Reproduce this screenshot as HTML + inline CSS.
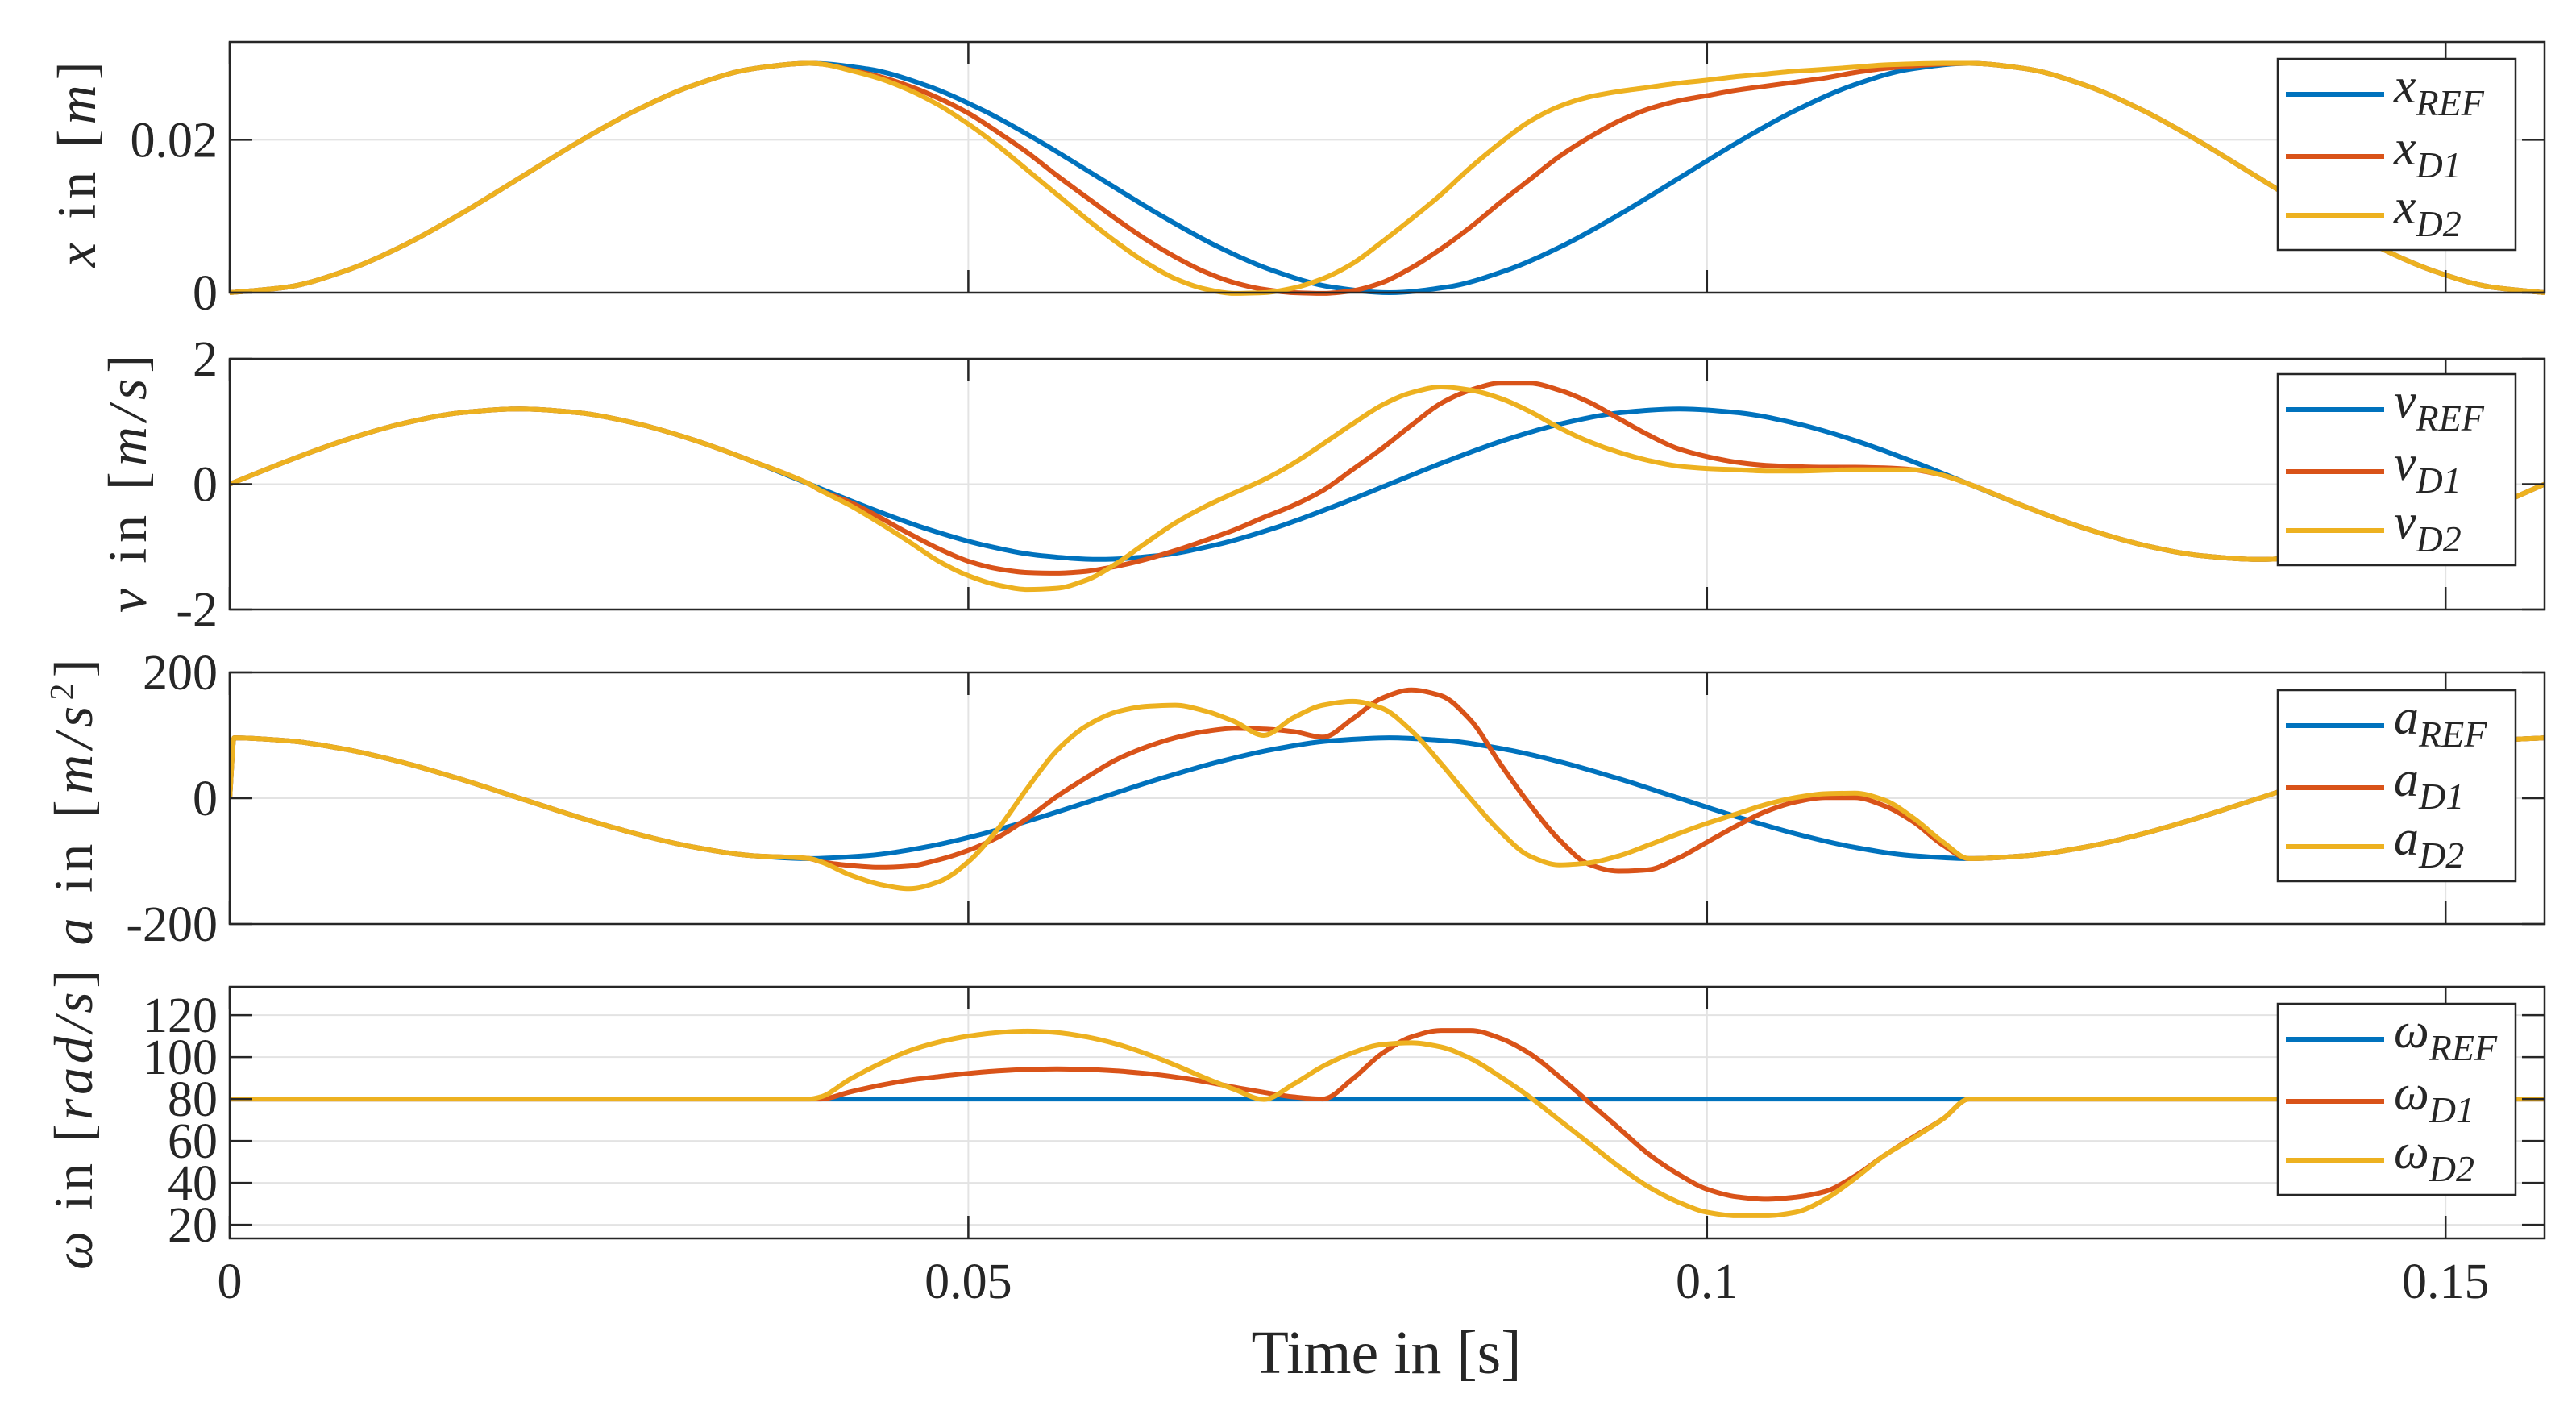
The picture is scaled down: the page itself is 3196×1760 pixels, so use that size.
<!DOCTYPE html>
<html><head><meta charset="utf-8"><style>
html,body{margin:0;padding:0;background:#fff}
svg{display:block}
text{font-family:"Liberation Serif","DejaVu Serif",serif;fill:#262626}
</style></head><body>
<svg id="chart" width="3196" height="1760" viewBox="0 0 3196 1760" xmlns="http://www.w3.org/2000/svg">
<rect width="3196" height="1760" fill="#fff"/>
<g id="root"></g>
<text x="1720" y="1703" font-size="76" text-anchor="middle" font-family="Liberation Serif, serif">Time in [s]</text>
</svg>
<script>
// ---- data ----
const tGrid=[0,0.003925,0.00785,0.011775,0.0157,0.019625,0.02355,0.027475,0.0314,0.035325,0.03925,0.043175,0.0471,0.051025,0.05495,0.058875,0.0628,0.066725,0.07065,0.074575,0.0785,0.082425,0.08635,0.090275,0.0942,0.098125,0.10205,0.105975,0.1099,0.113825,0.11775,0.121675,0.1256,0.129525,0.13345,0.137375,0.1413,0.145225,0.14915,0.153075,0.157];
const tWin=[0.040,0.042,0.044,0.046,0.048,0.050,0.052,0.054,0.056,0.058,0.060,0.062,0.064,0.066,0.068,0.070,0.072,0.074,0.076,0.078,0.080,0.082,0.084,0.086,0.088,0.090,0.092,0.094,0.096,0.098,0.100,0.102,0.104,0.106,0.108,0.110,0.112,0.114,0.116];
const winStart=0.0393, winEnd=0.1177;

const xRef=[0,.000735,.002865,.00618,.010365,.015,.019635,.02382,.027135,.029265,.03,.029265,.027135,.02382,.019635,.015,.010365,.00618,.002865,.000735,0,.000735,.002865,.00618,.010365,.015,.019635,.02382,.027135,.029265,.03,.029265,.027135,.02382,.019635,.015,.010365,.00618,.002865,.000735,0];
const xD1=[.02993,.02915,.02826,.02702,.02543,.02348,.02099,.01833,.01532,.01248,.00965,.00699,.00468,.00273,.00131,.00043,0,-.0001,.00025,.00131,.00326,.00574,.00858,.01177,.01479,.0178,.02028,.02241,.024,.02507,.02578,.02649,.02702,.02755,.02809,.02879,.02933,.02968,.02993];
const xD2=[.02993,.02908,.02801,.02649,.02454,.02206,.01922,.01603,.01284,.00965,.00663,.00397,.00184,.0005,-.0001,0,.0006,.00184,.00379,.00663,.00965,.01284,.01638,.01957,.02241,.02436,.0256,.02631,.02684,.02738,.0278,.02826,.02861,.02897,.02922,.0295,.02979,.02993,.03];

const vRef=[0,.371,.706,.971,1.141,1.2,1.141,.971,.706,.371,0,-.371,-.706,-.971,-1.141,-1.2,-1.141,-.971,-.706,-.371,0,.371,.706,.971,1.141,1.2,1.141,.971,.706,.371,0,-.371,-.706,-.971,-1.141,-1.2,-1.141,-.971,-.706,-.371,0];
const vD1=[-.10,-.29,-.53,-.79,-1.03,-1.23,-1.35,-1.41,-1.42,-1.39,-1.31,-1.20,-1.06,-.90,-.73,-.53,-.34,-.10,.23,.57,.94,1.29,1.50,1.61,1.61,1.50,1.31,1.05,.79,.57,.44,.35,.30,.28,.27,.27,.26,.23,.14];
const vD2=[-.10,-.34,-.62,-.92,-1.23,-1.46,-1.61,-1.68,-1.66,-1.53,-1.27,-.94,-.62,-.36,-.14,.07,.33,.64,.96,1.26,1.46,1.55,1.50,1.37,1.16,.90,.68,.51,.38,.29,.25,.23,.21,.21,.22,.23,.23,.23,.14];

const aRefT=[0,0.0003,0.003925,0.00785,0.011775,0.0157,0.019625,0.02355,0.027475,0.0314,0.035325,0.03925,0.043175,0.0471,0.051025,0.05495,0.058875,0.0628,0.066725,0.07065,0.074575,0.0785,0.082425,0.08635,0.090275,0.0942,0.098125,0.10205,0.105975,0.1099,0.113825,0.11775,0.121675,0.1256,0.129525,0.13345,0.137375,0.1413,0.145225,0.14915,0.153075,0.157];
const aRef=[0,96,91.3,77.7,56.4,29.7,0,-29.7,-56.4,-77.7,-91.3,-96,-91.3,-77.7,-56.4,-29.7,0,29.7,56.4,77.7,91.3,96,91.3,77.7,56.4,29.7,0,-29.7,-56.4,-77.7,-91.3,-96,-91.3,-77.7,-56.4,-29.7,0,29.7,56.4,77.7,91.3,96];
const aD1=[-101,-107,-110,-108,-98,-83,-62,-32,3,33,61,81,96,106,111,110,106,97,126,159,172,163,124,55,-10,-66,-105,-116,-114,-96,-70,-44,-21,-6,1,1,-12,-38,-75];
const aD2=[-101,-122,-137,-144,-133,-101,-49,16,76,115,137,146,148,139,122,100,128,148,154,143,107,55,-1,-53,-92,-106,-103,-92,-75,-57,-40,-25,-10,1,7,8,-3,-32,-70];

const wRef=[80,80,80,80,80,80,80,80,80,80,80,80,80,80,80,80,80,80,80,80,80,80,80,80,80,80,80,80,80,80,80,80,80,80,80,80,80,80,80,80,80];
const wD1=[80,83.4,86.5,89,90.7,92.2,93.4,94.1,94.4,94.1,93.4,92.2,90.5,88.3,85.6,83.2,81,80,89.5,101.7,109.6,112.7,112.7,109,101.7,90.7,78.5,66.3,54,44.4,37,33.4,32.2,33.2,35.9,43.2,53,62,70.6];
const wD2=[81,89.5,96.8,103,107.2,110,111.7,112.4,111.7,109.6,106.3,101.7,96.2,90.1,84.6,79.8,87,95.6,102,106,106.8,104.8,99.3,90.7,81,70,59,48,38.3,31,26,24.3,24.3,26,32.2,42,53,61.5,70.6];

const xTicks=[0,0.05,0.1,0.15];
const xTickLabels=["0","0.05","0.1","0.15"];
const p1Ticks=[0,0.02], p1Labels=["0","0.02"];
const p2Ticks=[-2,0,2], p2Labels=["-2","0","2"];
const p3Ticks=[-200,0,200], p3Labels=["-200","0","200"];
const p4Ticks=[20,40,60,80,100,120], p4Labels=["20","40","60","80","100","120"];

// ---- layout ----
const NS="http://www.w3.org/2000/svg";
const root=document.getElementById('root');
const L=285,R=3157,XMAX=0.1567;
const COLORS=["#0072BD","#D95319","#EDB120"];
function X(t){return L+(t/XMAX)*(R-L);}
function el(tag,attrs,parent){const e=document.createElementNS(NS,tag);for(const k in attrs)e.setAttribute(k,attrs[k]);(parent||root).appendChild(e);return e;}
function buildDev(refT,refV,winV){
  const pts=[];
  for(let i=0;i<refT.length;i++) if(refT[i]<=winStart) pts.push([refT[i],refV[i]]);
  for(let i=0;i<tWin.length;i++) pts.push([tWin[i],winV[i]]);
  for(let i=0;i<refT.length;i++) if(refT[i]>=winEnd) pts.push([refT[i],refV[i]]);
  return pts;
}
// monotone cubic (Fritsch-Carlson) in screen space
function pathD(pts,Y){
  const P=pts.map(p=>[X(Math.min(p[0],XMAX)),Y(p[1])]);
  const n=P.length, dx=[], s=[], m=[];
  for(let i=0;i<n-1;i++){dx[i]=P[i+1][0]-P[i][0];s[i]=dx[i]>0?(P[i+1][1]-P[i][1])/dx[i]:0;}
  m[0]=s[0];m[n-1]=s[n-2];
  for(let i=1;i<n-1;i++){
    if(s[i-1]*s[i]<=0) m[i]=0;
    else { const w1=2*dx[i]+dx[i-1], w2=dx[i]+2*dx[i-1]; m[i]=(w1+w2)/(w1/s[i-1]+w2/s[i]); }
  }
  let d="M"+P[0][0].toFixed(1)+","+P[0][1].toFixed(1);
  for(let i=0;i<n-1;i++){
    const h=dx[i]/3;
    d+=" C"+(P[i][0]+h).toFixed(1)+","+(P[i][1]+m[i]*h).toFixed(1)+" "+(P[i+1][0]-h).toFixed(1)+","+(P[i+1][1]-m[i+1]*h).toFixed(1)+" "+P[i+1][0].toFixed(1)+","+P[i+1][1].toFixed(1);
  }
  return d;
}
const panels=[
 {id:"position",top:52,bot:363,ymin:0,ymax:0.0328,ticks:p1Ticks,labels:p1Labels,refT:tGrid,ref:xRef,d1:xD1,d2:xD2,sym:"x",legTop:73,
  ylab:[["x",1],[" in [",0],["m",1],["]",0]],ylx:96,yly:204,yllen:255},
 {id:"velocity",top:445,bot:756,ymin:-2,ymax:2,ticks:p2Ticks,labels:p2Labels,refT:tGrid,ref:vRef,d1:vD1,d2:vD2,sym:"v",legTop:464,
  ylab:[["v",1],[" in [",0],["m/s",1],["]",0]],ylx:159,yly:600,yllen:320},
 {id:"acceleration",top:834,bot:1146,ymin:-200,ymax:200,ticks:p3Ticks,labels:p3Labels,refT:aRefT,ref:aRef,d1:aD1,d2:aD2,sym:"a",legTop:856,
  ylab:[["a",1],[" in [",0],["m/s",1],["2",2],["]",0]],ylx:92,yly:995,yllen:355},
 {id:"angular-velocity",top:1224,bot:1536,ymin:13.5,ymax:133.5,ticks:p4Ticks,labels:p4Labels,refT:tGrid,ref:wRef,d1:wD1,d2:wD2,sym:"ω",legTop:1245,
  ylab:[["ω",1],[" in [",0],["rad/s",1],["]",0]],ylx:92,yly:1389,yllen:372}
];
panels.forEach((p,pi)=>{
  const g=el('g',{});
  
  
  const Y=v=>p.bot-(v-p.ymin)/(p.ymax-p.ymin)*(p.bot-p.top);
  xTicks.forEach(t=>{const ln=el('line',{x1:X(t),x2:X(t),y1:p.top,y2:p.bot,stroke:"#e3e3e3","stroke-width":2},g);
    
    });
  p.ticks.forEach(v=>{const ln=el('line',{x1:L,x2:R,y1:Y(v),y2:Y(v),stroke:"#e3e3e3","stroke-width":2},g);
    
    });
  const clip=el('clipPath',{id:'clip'+pi},g);el('rect',{x:L,y:p.top-6,width:R-L,height:p.bot-p.top+12},clip);
  const series=[p.refT.map((t,i)=>[t,p.ref[i]]),buildDev(p.refT,p.ref,p.d1),buildDev(p.refT,p.ref,p.d2)];
  const names=["ref","d1","d2"];
  series.forEach((s,si)=>{
    const pa=el('path',{d:pathD(s,Y),fill:"none",stroke:COLORS[si],"stroke-width":6,"stroke-linejoin":"round","clip-path":"url(#clip"+pi+")"},g);
    
    
  });
  const bx=el('rect',{x:L,y:p.top,width:R-L,height:p.bot-p.top,fill:"none",stroke:"#262626","stroke-width":2.5},g);
  
  
  xTicks.forEach(t=>{el('line',{x1:X(t),x2:X(t),y1:p.bot,y2:p.bot-28,stroke:"#262626","stroke-width":2.5},g);
    el('line',{x1:X(t),x2:X(t),y1:p.top,y2:p.top+28,stroke:"#262626","stroke-width":2.5},g);});
  p.ticks.forEach((v,i)=>{el('line',{x1:L,x2:L+28,y1:Y(v),y2:Y(v),stroke:"#262626","stroke-width":2.5},g);
    el('line',{x1:R,x2:R-28,y1:Y(v),y2:Y(v),stroke:"#262626","stroke-width":2.5},g);
    const tx=el('text',{x:270,y:Y(v)+21,"font-size":62,"text-anchor":"end","font-family":"Liberation Serif, serif"},g);tx.textContent=p.labels[i];
    
    });
  const yl=el('text',{x:0,y:0,"font-size":68,"text-anchor":"middle","font-family":"Liberation Serif, serif",transform:"translate("+(p.ylx+22)+","+p.yly+") rotate(-90)",textLength:p.yllen,lengthAdjust:"spacing"},g);
  
  
  p.ylab.forEach(part=>{const ts=el('tspan',{},yl);ts.textContent=part[0];
    if(part[1]===1)ts.setAttribute('font-style','italic');
    if(part[1]===2){ts.setAttribute('font-size','42');ts.setAttribute('baseline-shift','super');}});
  const lg=el('g',{},g);
  
  
  el('rect',{x:2826,y:p.legTop,width:295,height:237,fill:"#fff",stroke:"#262626","stroke-width":2.5},lg);
  const subs=["REF","D1","D2"], offs=[44,121,194];
  subs.forEach((sb,si)=>{
    const ey=p.legTop+offs[si];
    const en=el('g',{},lg);
    
    
    el('line',{x1:2836,x2:2958,y1:ey,y2:ey,stroke:COLORS[si],"stroke-width":6},en);
    const tx=el('text',{x:2970,y:ey+10,"font-size":62,"font-style":"italic","font-family":"Liberation Serif, serif"},en);
    const a=el('tspan',{},tx);a.textContent=p.sym;
    const b=el('tspan',{"font-size":46,dy:16},tx);b.textContent=sb;
  });
});
xTicks.forEach((t,i)=>{const tx=el('text',{x:X(t),y:1610,"font-size":62,"text-anchor":"middle","font-family":"Liberation Serif, serif"});tx.textContent=xTickLabels[i];
  
  });
</script>
</body></html>
